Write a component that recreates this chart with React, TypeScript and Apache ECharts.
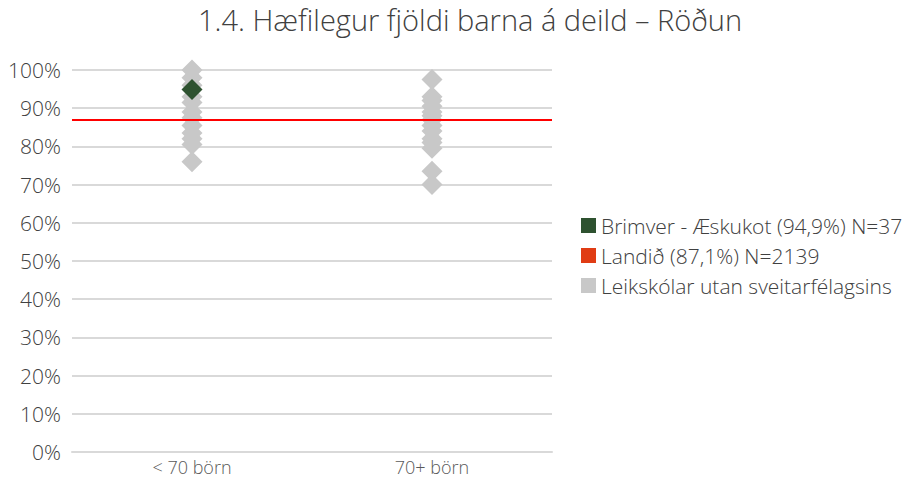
import React, { useEffect, useRef } from "react";
import * as echarts from "echarts";

const title = "1.4. Hæfilegur fjöldi barna á deild – Röðun";
const categories = ["< 70 börn", "70+ börn"];
const otherSmall = [100, 98, 96, 93, 91.5, 89, 87.5, 85.5, 83.5, 82, 80.5, 76];
const otherLarge = [97.5, 93, 92, 90.5, 89, 88, 87, 85.5, 84, 82, 81, 79.5, 73.5, 70];
const ownName = "Brimver - Æskukot (94,9%) N=37";
const ownValues: [number, number][] = [[0, 94.9]];
const countryName = "Landið (87,1%) N=2139";
const countryValue = 87.1;
const otherName = "Leikskólar utan sveitarfélagsins";

export default function App() {
  const ref = useRef<HTMLDivElement>(null);
  useEffect(() => {
    const chart = echarts.init(ref.current!, null, { renderer: "svg" });
    const font = "'Open Sans', 'Noto Sans', sans-serif";
    const otherData = [
      ...otherSmall.map((v) => [0, v]),
      ...otherLarge.map((v) => [1, v]),
    ];
    chart.setOption({
      animation: false,
      textStyle: { fontFamily: font },
      title: {
        text: title,
        left: 465,
        textAlign: "center",
        top: 0,
        textStyle: { fontSize: 29, fontWeight: 300, color: "#404040", fontFamily: font },
      },
      grid: { left: 72, right: 367, top: 70, bottom: 27, containLabel: false },
      legend: {
        orient: "vertical",
        left: 576,
        top: 210,
        itemWidth: 15,
        itemHeight: 15,
        itemGap: 9,
        icon: "rect",
        textStyle: { fontSize: 21, fontWeight: 300, color: "#404040", fontFamily: font },
        data: [ownName, countryName, otherName],
      },
      xAxis: {
        type: "category",
        data: categories,
        boundaryGap: true,
        axisLine: { show: true, lineStyle: { color: "#d9d9d9", width: 2 } },
        axisTick: { show: false },
        axisLabel: { fontSize: 18, fontWeight: 300, color: "#595959", margin: 6 },
        splitLine: { show: false },
      },
      yAxis: {
        type: "value",
        min: 0,
        max: 100,
        interval: 10,
        axisLine: { show: false },
        axisTick: { show: false },
        axisLabel: { formatter: "{value}%", fontSize: 21, fontWeight: 300, color: "#404040", margin: 11 },
        splitLine: { lineStyle: { color: "#d9d9d9", width: 2 } },
      },
      series: [
        {
          name: otherName,
          type: "scatter",
          symbol: "diamond",
          symbolSize: 21,
          itemStyle: { color: "#c8c8c8", opacity: 1 },
          data: otherData,
          z: 2,
        },
        {
          name: countryName,
          type: "scatter",
          data: [],
          itemStyle: { color: "#e03c14", opacity: 1 },
          markLine: {
            symbol: "none",
            silent: true,
            label: { show: false },
            lineStyle: { color: "#ff0000", width: 2, type: "solid" },
            data: [{ yAxis: countryValue }],
          },
          z: 3,
        },
        {
          name: ownName,
          type: "scatter",
          symbol: "diamond",
          symbolSize: 21,
          itemStyle: { color: "#2e5230", opacity: 1 },
          data: ownValues,
          z: 4,
        },
      ],
    });
    return () => chart.dispose();
  }, []);
  return (
    <div
      ref={ref}
      style={{ position: "absolute", left: 0, top: 0, width: 919, height: 479 }}
    />
  );
}
